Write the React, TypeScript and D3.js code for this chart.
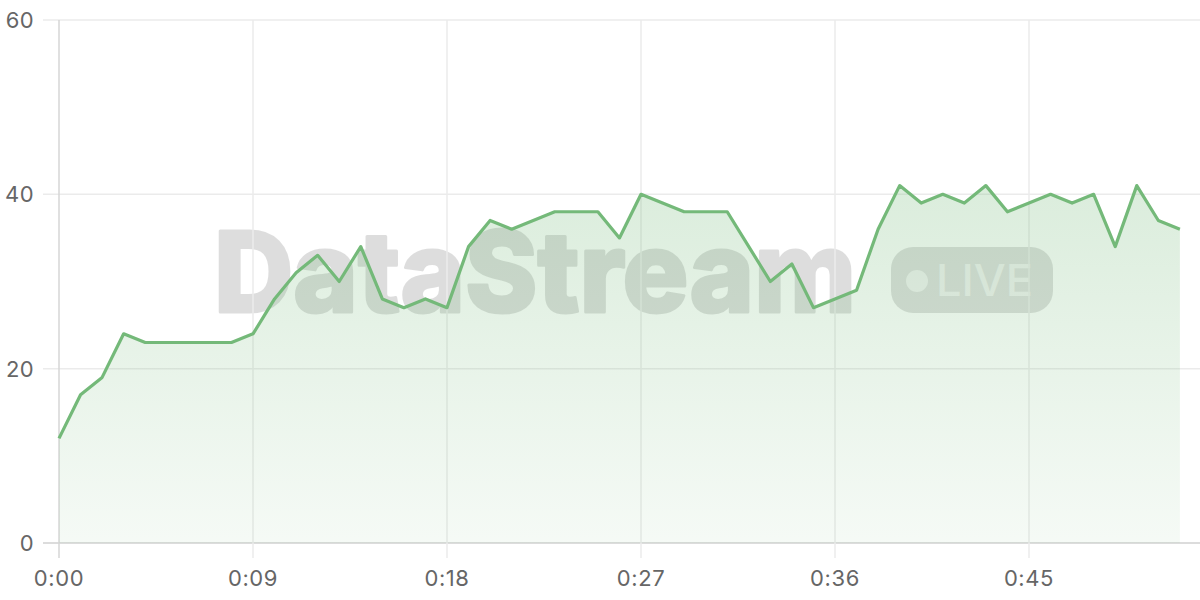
import { useEffect, useRef } from "react";
import * as d3 from "d3";

// seconds since start, one sample per second
const seconds = d3.range(0, 53);
const values = [
  12, 17, 19, 24, 23, 23, 23, 23, 23, 24, 28, 31, 33, 30, 34, 28, 27, 28, 27, 34,
  37, 36, 37, 38, 38, 38, 35, 40, 39, 38, 38, 38, 34, 30, 32, 27, 28, 29, 36, 41,
  39, 40, 39, 41, 38, 39, 40, 39, 40, 34, 41, 37, 36,
];
const xTicks = [0, 9, 18, 27, 36, 45];
const yTicks = [0, 20, 40, 60];

const width = 1200;
const height = 600;
const margin = { top: 20, right: 0, bottom: 57, left: 59 };
const lineColor = "#74b979";
const pxPerSecond = 194 / 9;

function fmt(s: number) {
  const m = Math.floor(s / 60);
  return m + ":" + String(s % 60).padStart(2, "0");
}

export default function App() {
  const ref = useRef<SVGSVGElement>(null);

  useEffect(() => {
    document.body.style.margin = "0";
    draw();
  });

  function draw() {
    const svg = d3.select(ref.current);
    svg.selectAll("*").remove();
    const innerW = width - margin.left - margin.right;
    const innerH = height - margin.top - margin.bottom;

    const x = d3.scaleLinear().domain([0, 52]).range([0, 52 * pxPerSecond]);
    const y = d3.scaleLinear().domain([0, 60]).range([innerH, 0]);

    const defs = svg.append("defs");
    const grad = defs
      .append("linearGradient")
      .attr("id", "areaFill")
      .attr("x1", 0)
      .attr("y1", 0)
      .attr("x2", 0)
      .attr("y2", 1);
    grad.append("stop").attr("offset", "0%").attr("stop-color", lineColor).attr("stop-opacity", 0.26);
    grad.append("stop").attr("offset", "100%").attr("stop-color", lineColor).attr("stop-opacity", 0.07);

    const plot = svg
      .append("g")
      .attr("transform", "translate(" + margin.left + "," + margin.top + ")");

    // watermark (page coordinates)
    const wm = svg.insert("g", "g").attr("opacity", 0.13);
    wm.append("text")
      .attr("x", 214)
      .attr("y", 312)
      .attr("textLength", 642)
      .attr("lengthAdjust", "spacingAndGlyphs")
      .attr("font-family", "Inter, 'Liberation Sans', sans-serif")
      .attr("font-weight", 800)
      .attr("font-size", 112)
      .attr("fill", "#000")
      .attr("stroke", "#000")
      .attr("stroke-width", 3)
      .attr("stroke-linejoin", "round")
      .text("DataStream");
    const pill = svg.insert("g", "g");
    pill
      .append("rect")
      .attr("x", 891)
      .attr("y", 247)
      .attr("width", 162)
      .attr("height", 66)
      .attr("rx", 22)
      .attr("fill", "#000")
      .attr("fill-opacity", 0.13);
    pill
      .append("circle")
      .attr("cx", 917)
      .attr("cy", 281)
      .attr("r", 11)
      .attr("fill", "#fff")
      .attr("fill-opacity", 0.6);
    pill
      .append("text")
      .attr("x", 936)
      .attr("y", 296)
      .attr("textLength", 97)
      .attr("lengthAdjust", "spacingAndGlyphs")
      .attr("font-family", "Inter, 'Liberation Sans', sans-serif")
      .attr("font-weight", 500)
      .attr("font-size", 44)
      .attr("fill", "#fff")
      .attr("fill-opacity", 0.6)
      .text("LIVE");

    // grid
    plot
      .append("g")
      .selectAll("line")
      .data(yTicks)
      .enter()
      .append("line")
      .attr("x1", -16)
      .attr("x2", innerW)
      .attr("y1", (d) => y(d))
      .attr("y2", (d) => y(d))
      .attr("stroke", (d) => (d === 0 ? "#d0d0d0" : "#ebebeb"))
      .attr("stroke-width", 1.5);
    plot
      .append("g")
      .selectAll("line")
      .data(xTicks)
      .enter()
      .append("line")
      .attr("x1", (d) => x(d))
      .attr("x2", (d) => x(d))
      .attr("y1", 0)
      .attr("y2", innerH + 15)
      .attr("stroke", (d) => (d === 0 ? "#d6d6d6" : "#ebebeb"))
      .attr("stroke-width", 1.5);

    // area + line
    const area = d3
      .area<number>()
      .x((_, i) => x(seconds[i]))
      .y0(innerH)
      .y1((d) => y(d));
    plot.append("path").datum(values).attr("d", area).attr("fill", "url(#areaFill)");

    const line = d3
      .line<number>()
      .x((_, i) => x(seconds[i]))
      .y((d) => y(d));
    plot
      .append("path")
      .datum(values)
      .attr("d", line)
      .attr("fill", "none")
      .attr("stroke", lineColor)
      .attr("stroke-width", 3.2)
      .attr("stroke-linejoin", "round");

    // labels
    plot
      .append("g")
      .selectAll("text")
      .data(yTicks)
      .enter()
      .append("text")
      .attr("x", -25)
      .attr("y", (d) => y(d))
      .attr("dy", "0.36em")
      .attr("text-anchor", "end")
      .attr("font-family", "Inter, sans-serif")
      .attr("font-size", 22)
      .attr("letter-spacing", 0.4)
      .attr("fill", "#666")
      .text((d) => d);
    plot
      .append("g")
      .selectAll("text")
      .data(xTicks)
      .enter()
      .append("text")
      .attr("x", (d) => x(d))
      .attr("y", innerH + 43)
      .attr("text-anchor", "middle")
      .attr("font-family", "Inter, sans-serif")
      .attr("font-size", 22)
      .attr("letter-spacing", 0.6)
      .attr("fill", "#666")
      .text((d) => fmt(d));
  }

  return <svg width={width} height={height} ref={ref} style={{ display: "block" }}></svg>;
}
